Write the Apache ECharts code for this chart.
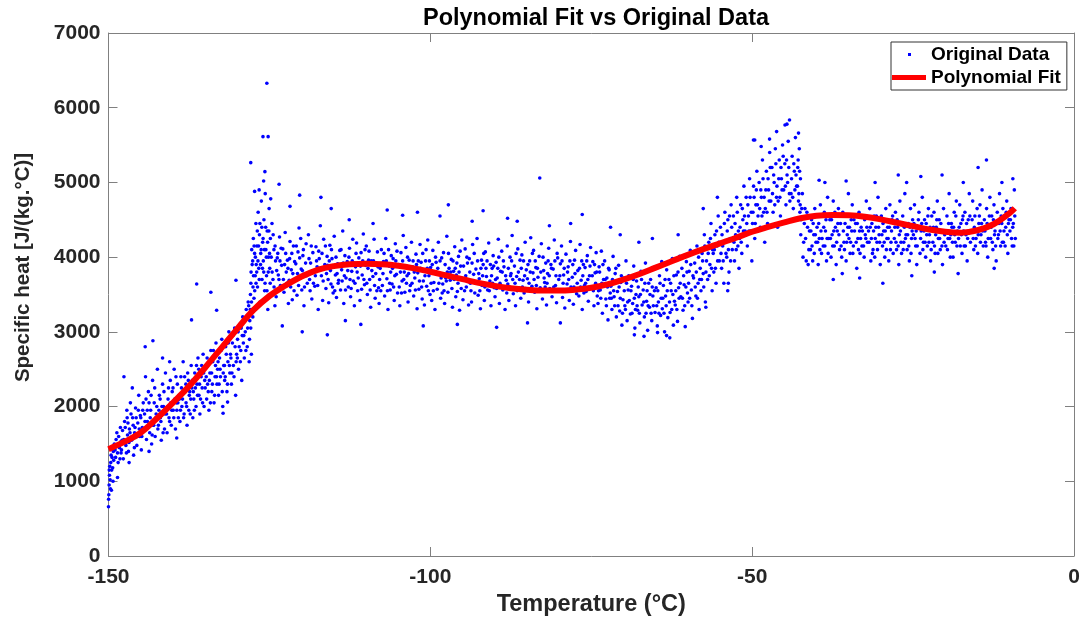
<!DOCTYPE html>
<html>
<head>
<meta charset="utf-8">
<script src="https://cdn.jsdelivr.net/npm/echarts@6/dist/echarts.min.js"></script>
<style>
  html, body { margin: 0; padding: 0; background: #fff; }
  #main { width: 1082px; height: 620px; }
</style>
</head>
<body>
<div id="main"></div>
<script>
// axis ticks
const xTicks = [-150, -100, -50, 0];
const yTicks = [0, 1000, 2000, 3000, 4000, 5000, 6000, 7000];

// polynomial fit
const fitX = [-150, -147.5, -145, -142.5, -140, -137.5, -135, -132.5, -130, -127.5, -125, -122.5, -120, -117.5, -115, -112.5, -110, -107.5, -105, -102.5, -100, -97.5, -95, -92.5, -90, -87.5, -85, -82.5, -80, -77.5, -75, -72.5, -70, -67.5, -65, -62.5, -60, -57.5, -55, -52.5, -50, -47.5, -45, -42.5, -40, -37.5, -35, -32.5, -30, -27.5, -25, -22.5, -20, -17.5, -15, -12.5, -10, -9.2];
const fitY = [1430, 1530, 1650, 1840, 2050, 2270, 2520, 2780, 3040, 3290, 3480, 3620, 3740, 3830, 3880, 3905, 3910, 3905, 3885, 3850, 3805, 3755, 3705, 3655, 3615, 3585, 3565, 3553, 3552, 3565, 3590, 3635, 3700, 3775, 3860, 3945, 4030, 4110, 4185, 4260, 4340, 4405, 4465, 4520, 4555, 4565, 4560, 4540, 4505, 4460, 4415, 4370, 4340, 4328, 4360, 4440, 4590, 4654];

// original data (sampled from the blue cloud)
const ptsRise = [
  [-150.0,660],[-149.95,820],[-149.9,950],[-149.85,1080],[-149.8,1200],[-149.7,900],[-149.6,1350],[-149.5,1150],[-149.4,1450],[-149.3,1000],[-149.2,1280],
  [-149.98,760],[-149.88,1150],[-149.75,1020],[-149.65,1250],[-149.55,880],[-149.45,1320],[-149.35,1180],[-149.25,1400],
  [-149.1,1500],[-148.9,1320],[-148.7,1650],[-148.5,1250],[-148.3,1450],[-148.15,1720],[-148.05,1380],
  [-148.98,1420],[-148.82,1560],[-148.6,1380],[-148.42,1600],[-148.22,1300],[-148.1,1530],
  [-147.9,1550],[-147.7,1300],[-147.5,1800],[-147.3,1480],[-147.15,1950],[-147.05,1620],
  [-147.98,1420],[-147.82,1680],[-147.62,1560],[-147.4,1720],[-147.22,1380],[-147.1,1850],
  [-146.9,1400],[-146.75,1700],[-146.6,2050],[-146.4,1550],[-146.25,1850],[-146.1,1350],
  [-146.98,1780],[-146.82,1520],[-146.66,1650],[-146.5,1900],[-146.33,1600],[-146.17,1750],
  [-145.95,1650],[-145.8,1980],[-145.6,1480],[-145.45,1780],[-145.3,2150],[-145.15,1600],[-145.05,1880],
  [-145.98,1450],[-145.88,1720],[-145.7,1850],[-145.52,1600],[-145.36,1950],[-145.22,1700],
  [-144.9,1420],[-144.75,1720],[-144.6,2050],[-144.4,1900],[-144.25,2400],[-144.1,1560],
  [-144.98,1850],[-144.82,1600],[-144.68,1950],[-144.5,1680],[-144.33,1800],[-144.17,2100],
  [-143.95,1800],[-143.8,2200],[-143.6,1650],[-143.45,1950],[-143.3,1500],[-143.15,2350],[-143.05,1750],
  [-143.98,1950],[-143.86,1720],[-143.7,2050],[-143.52,1850],[-143.38,2150],[-143.22,1620],
  [-142.9,2050],[-142.75,1600],[-142.6,1900],[-142.4,2500],[-142.25,1750],[-142.1,2150],
  [-142.98,1750],[-142.82,2250],[-142.66,1850],[-142.5,2000],[-142.33,1700],[-142.17,1950],
  [-141.95,1850],[-141.8,1550],[-141.6,2300],[-141.45,2000],[-141.3,1700],[-141.15,2450],[-141.05,1950],
  [-141.98,2100],[-141.86,1800],[-141.7,2000],[-141.52,1650],[-141.38,2200],[-141.22,1900],
  [-140.9,1650],[-140.75,2100],[-140.6,1850],[-140.4,2350],[-140.25,1750],[-140.1,2200],
  [-140.98,1900],[-140.82,2000],[-140.68,2250],[-140.5,1800],[-140.33,2050],[-140.17,1950],
  [-139.95,1950],[-139.8,2500],[-139.6,1700],[-139.45,2050],[-139.3,2300],[-139.15,1850],[-139.05,2150],
  [-139.98,2250],[-139.86,1850],[-139.7,2100],[-139.52,2400],[-139.38,1950],[-139.22,2050],
  [-138.9,1800],[-138.75,2400],[-138.6,2000],[-138.4,2600],[-138.25,1900],[-138.1,2200],
  [-138.98,2100],[-138.82,1950],[-138.66,2250],[-138.5,2100],[-138.33,1850],[-138.17,2400],
  [-137.95,2050],[-137.8,1750],[-137.6,2350],[-137.45,2150],[-137.3,1900],[-137.15,2550],[-137.05,2250],
  [-137.98,2300],[-137.86,2000],[-137.7,2450],[-137.52,1950],[-137.38,2200],[-137.22,2100],
  [-136.9,1850],[-136.75,2100],[-136.6,2450],[-136.4,2000],[-136.25,2300],[-136.1,2650],
  [-136.98,2350],[-136.82,2200],[-136.66,1950],[-136.5,2250],[-136.33,2550],[-136.17,2150],
  [-135.95,2150],[-135.8,1900],[-135.6,2400],[-135.45,2250],[-135.3,2700],[-135.15,2000],[-135.05,2350],
  [-135.98,2500],[-135.86,2300],[-135.7,2100],[-135.52,2550],[-135.38,2050],[-135.22,2450],
  [-134.9,2550],[-134.75,2100],[-134.6,2300],[-134.4,1950],[-134.25,2450],[-134.1,2750],
  [-134.98,2250],[-134.82,2400],[-134.68,2650],[-134.5,2200],[-134.33,2350],[-134.17,2050],
  [-133.95,2200],[-133.8,2600],[-133.6,2050],[-133.45,2400],[-133.3,2850],[-133.15,2300],[-133.05,2500],
  [-133.98,2450],[-133.86,2300],[-133.7,2750],[-133.52,2150],[-133.38,2550],[-133.22,2400],
  [-132.9,2150],[-132.75,2650],[-132.6,2400],[-132.4,2900],[-132.25,2000],[-132.1,2550],
  [-132.98,2600],[-132.82,2300],[-132.66,2500],[-132.5,2750],[-132.33,2200],[-132.17,2450],
  [-131.95,2350],[-131.8,2800],[-131.6,2200],[-131.45,2600],[-131.3,3000],[-131.15,2450],[-131.05,2700],
  [-131.98,2550],[-131.86,2400],[-131.7,2700],[-131.52,2300],[-131.38,2850],[-131.22,2550],
  [-130.9,2300],[-130.75,2850],[-130.6,2550],[-130.4,3050],[-130.25,2150],[-130.1,2700],
  [-130.98,2650],[-130.82,2450],[-130.66,2950],[-130.5,2400],[-130.33,2800],[-130.17,2600],
  [-129.95,2900],[-129.8,2500],[-129.6,3100],[-129.45,2750],[-129.3,2350],[-129.15,3200],[-129.05,2850],
  [-129.98,2650],[-129.86,3000],[-129.7,2800],[-129.52,2600],[-129.38,3050],[-129.22,2950],
  [-128.9,2650],[-128.75,3000],[-128.6,3300],[-128.45,2800],[-128.3,3400],[-128.15,2600],[-128.05,3150],
  [-128.98,2950],[-128.82,3150],[-128.66,2750],[-128.5,3200],[-128.38,3050],[-128.22,3350],[-128.1,2900]
];
const ptsJump = [
  [-127.95,3500],[-127.9,3050],[-127.85,3800],[-127.8,2700],[-127.75,4100],[-127.7,3300],[-127.6,3950],[-127.55,3600],[-127.5,4250],[-127.4,3450],[-127.3,4050],[-127.2,3750],[-127.1,4450],[-127.05,3900],
  [-127.98,3300],[-127.88,3650],[-127.78,3400],[-127.68,3900],[-127.58,3200],[-127.48,3750],[-127.38,4150],[-127.28,3550],[-127.18,4000],[-127.08,3650],
  [-126.95,4150],[-126.85,3600],[-126.75,4600],[-126.65,3850],[-126.55,4300],[-126.45,3400],[-126.35,4050],[-126.25,4750],[-126.15,3700],[-126.05,4200],
  [-126.98,3800],[-126.88,4350],[-126.78,3950],[-126.68,4150],[-126.58,3700],[-126.48,4450],[-126.38,3900],[-126.28,4100],[-126.18,4400],[-126.08,3850],
  [-125.95,3950],[-125.85,4500],[-125.75,3550],[-125.65,4850],[-125.55,4100],[-125.45,3750],[-125.35,4350],[-125.25,3300],[-125.15,4000],[-125.05,4650],
  [-125.98,4250],[-125.88,3800],[-125.78,4100],[-125.68,3650],[-125.58,4400],[-125.48,4000],[-125.38,3550],[-125.28,4200],[-125.18,3800],[-125.08,4350],
  [-124.95,3850],[-124.85,4250],[-124.75,3500],[-124.6,4450],[-124.45,3700],[-124.3,4100],[-124.15,3350],[-124.05,3950],
  [-124.98,4050],[-124.88,3650],[-124.72,4000],[-124.58,3800],[-124.42,4300],[-124.28,3600],[-124.12,4150]
];
const ptsPlateau = [
  [-123.95,3470],[-123.78,3990],[-123.62,3760],[-123.43,4270],[-123.29,3620],[-123.1,3890],
  [-123.87,3820],[-123.7,4050],[-123.52,3700],[-123.36,3950],[-123.18,4120],
  [-122.92,4110],[-122.74,3530],[-122.55,4330],[-122.38,3800],[-122.2,3960],[-122.05,3380],
  [-122.83,3700],[-122.64,3900],[-122.47,4050],[-122.29,3650],[-122.12,3850],
  [-121.93,3690],[-121.8,4210],[-121.6,3830],[-121.45,3430],[-121.27,4150],[-121.08,3940],
  [-121.86,3980],[-121.7,3600],[-121.52,4050],[-121.36,3780],[-121.17,3550],
  [-120.9,3910],[-120.72,3490],[-120.56,4070],[-120.4,4390],[-120.23,3720],[-120.06,3840],
  [-120.82,4150],[-120.64,3780],[-120.47,3620],[-120.3,3990],[-120.14,4250],
  [-119.97,3560],[-119.8,4020],[-119.63,3350],[-119.47,3780],[-119.3,4180],[-119.12,3650],
  [-119.88,3820],[-119.72,4100],[-119.55,3600],[-119.38,3920],[-119.2,3750],
  [-118.94,4300],[-118.76,3700],[-118.6,3920],[-118.41,3440],[-118.25,4060],[-118.08,3810],
  [-118.85,3980],[-118.68,3550],[-118.5,4150],[-118.33,3800],[-118.16,3650],
  [-117.95,3610],[-117.77,4140],[-117.59,3870],[-117.42,3300],[-117.26,3980],[-117.09,4420],
  [-117.86,3750],[-117.68,3950],[-117.5,3620],[-117.34,4080],[-117.17,3850],
  [-116.92,3750],[-116.73,3420],[-116.57,4240],[-116.39,3900],[-116.22,3580],[-116.04,4010],
  [-116.83,4050],[-116.65,3680],[-116.48,3850],[-116.3,4150],[-116.13,3780],
  [-115.96,3890],[-115.79,3390],[-115.61,4160],[-115.44,3640],[-115.28,3980],[-115.1,3520],
  [-115.88,3700],[-115.7,3950],[-115.52,3820],[-115.36,4100],[-115.19,3600],
  [-114.93,4280],[-114.75,3760],[-114.58,3460],[-114.4,3910],[-114.24,3690],[-114.07,4090],
  [-114.84,3550],[-114.66,4000],[-114.49,3780],[-114.32,3650],[-114.15,3900],
  [-113.95,3560],[-113.78,3830],[-113.61,4350],[-113.45,3380],[-113.27,4020],[-113.1,3720],
  [-113.87,4100],[-113.7,3680],[-113.53,3920],[-113.36,3750],[-113.18,3560],
  [-112.91,3940],[-112.74,3600],[-112.56,4120],[-112.39,3470],[-112.21,3810],[-112.05,4240],
  [-112.83,3820],[-112.65,4000],[-112.48,3700],[-112.3,3580],[-112.13,3950],
  [-111.96,3680],[-111.8,3350],[-111.62,3870],[-111.46,4190],[-111.29,3550],[-111.11,3990],
  [-111.88,3920],[-111.71,3650],[-111.54,4050],[-111.37,3800],[-111.2,3720],
  [-110.93,3420],[-110.76,4060],[-110.59,3760],[-110.41,4310],[-110.23,3630],[-110.06,3890],
  [-110.85,3880],[-110.68,3570],[-110.5,3950],[-110.32,3700],[-110.15,4100],
  [-109.95,4150],[-109.78,3500],[-109.6,3960],[-109.43,3700],[-109.27,3330],[-109.09,3820],
  [-109.87,3650],[-109.69,3850],[-109.52,4080],[-109.35,3560],[-109.18,3950],
  [-108.92,3740],[-108.74,4240],[-108.57,3450],[-108.4,3920],[-108.22,4070],[-108.05,3590],
  [-108.83,3950],[-108.66,3620],[-108.48,3780],[-108.31,3550],[-108.14,3870],
  [-107.96,3380],[-107.79,3850],[-107.61,4100],[-107.45,3620],[-107.28,3940],[-107.1,3480],
  [-107.88,3700],[-107.7,3550],[-107.53,3900],[-107.36,3780],[-107.19,4050],
  [-106.93,4250],[-106.75,3710],[-106.58,3300],[-106.4,3880],[-106.24,3560],[-106.07,4020],
  [-106.84,3950],[-106.67,3550],[-106.49,4100],[-106.32,3650],[-106.16,3800],
  [-105.95,3640],[-105.78,3980],[-105.61,3420],[-105.44,4180],[-105.27,3770],[-105.09,3520],
  [-105.87,3850],[-105.7,3600],[-105.52,3750],[-105.36,3950],[-105.18,4080],
  [-104.91,3900],[-104.74,3350],[-104.56,4060],[-104.39,3680],[-104.21,4290],[-104.05,3800],
  [-104.83,3600],[-104.65,3800],[-104.48,3520],[-104.3,3950],[-104.13,3700],
  [-103.96,3530],[-103.8,4130],[-103.62,3750],[-103.46,3400],[-103.29,3960],[-103.11,3620],
  [-103.88,3880],[-103.71,3650],[-103.54,4000],[-103.37,3780],[-103.2,3550],
  [-102.93,4200],[-102.76,3870],[-102.59,3480],[-102.41,3720],[-102.23,4040],[-102.06,3310],
  [-102.84,3650],[-102.68,3950],[-102.5,3800],[-102.32,3560],[-102.15,3900],
  [-101.95,3790],[-101.78,3570],[-101.6,4170],[-101.43,3930],[-101.27,3440],[-101.09,3680],
  [-101.87,3950],[-101.69,3680],[-101.52,3850],[-101.35,3600],[-101.18,4050],
  [-100.92,3360],[-100.74,3950],[-100.57,3610],[-100.4,4230],[-100.22,3750],[-100.05,3500],
  [-100.83,3750],[-100.66,4100],[-100.48,3850],[-100.31,3550],[-100.14,3950],
  [-99.96,3860],[-99.79,3420],[-99.61,4090],[-99.45,3660],[-99.28,3300],[-99.1,3930],
  [-99.88,3650],[-99.7,3900],[-99.53,3550],[-99.36,3800],[-99.19,4000],
  [-98.93,3570],[-98.75,4200],[-98.58,3780],[-98.4,3450],[-98.24,3990],[-98.07,3640],
  [-98.84,3850],[-98.67,3650],[-98.49,3950],[-98.32,3720],[-98.16,3520],
  [-97.95,4060],[-97.78,3380],[-97.61,3720],[-97.44,4280],[-97.27,3530],[-97.09,3850],
  [-97.87,3550],[-97.7,3900],[-97.52,3680],[-97.36,3800],[-97.18,4050],
  [-96.91,3690],[-96.74,3970],[-96.56,3330],[-96.39,3810],[-96.21,4140],[-96.05,3470],
  [-96.83,3800],[-96.65,3580],[-96.48,3950],[-96.3,3700],[-96.13,3850],
  [-95.96,3760],[-95.8,3540],[-95.62,4010],[-95.46,3290],[-95.29,3880],[-95.11,4230],
  [-95.88,3920],[-95.71,3650],[-95.54,3800],[-95.37,4080],[-95.2,3580],
  [-94.93,3430],[-94.76,3700],[-94.59,4110],[-94.41,3600],[-94.23,3920],[-94.06,3360],
  [-94.84,3880],[-94.68,3550],[-94.5,3750],[-94.32,4000],[-94.15,3680],
  [-93.95,3980],[-93.78,3650],[-93.6,3400],[-93.43,4170],[-93.27,3770],[-93.09,3520],
  [-93.87,3800],[-93.69,3550],[-93.52,3920],[-93.35,3680],[-93.18,4050],
  [-92.92,3840],[-92.74,4250],[-92.57,3490],[-92.4,3710],[-92.22,3310],[-92.05,3960],
  [-92.83,3650],[-92.66,3950],[-92.48,3780],[-92.31,3550],[-92.14,3850],
  [-91.96,3620],[-91.79,3900],[-91.61,3420],[-91.45,4070],[-91.28,3740],[-91.1,3560],
  [-91.88,3750],[-91.7,4050],[-91.53,3600],[-91.36,3850],[-91.19,3950],
  [-90.93,4190],[-90.75,3680],[-90.58,3350],[-90.4,3850],[-90.24,4020],[-90.07,3590],
  [-90.84,3550],[-90.67,3900],[-90.49,3750],[-90.32,3650],[-90.16,3880],
  [-89.95,3470],[-89.78,3930],[-89.61,3720],[-89.44,4240],[-89.27,3380],[-89.09,3810],
  [-89.87,3700],[-89.7,3580],[-89.52,3850],[-89.36,4000],[-89.18,3650],
  [-88.91,4080],[-88.74,3560],[-88.56,3870],[-88.39,3300],[-88.21,3690],[-88.05,4150],
  [-88.83,3800],[-88.65,3950],[-88.48,3600],[-88.3,3750],[-88.13,3520],
  [-87.96,3640],[-87.8,3420],[-87.62,4000],[-87.46,3780],[-87.29,4290],[-87.11,3510],
  [-87.88,3850],[-87.71,3600],[-87.54,3750],[-87.37,3950],[-87.2,3700],
  [-86.93,3880],[-86.76,3350],[-86.59,3740],[-86.41,4110],[-86.23,3590],[-86.06,3960],
  [-86.84,3650],[-86.68,4050],[-86.5,3550],[-86.32,3800],[-86.15,3700],
  [-85.95,3450],[-85.78,4030],[-85.6,3690],[-85.43,3520],[-85.27,4200],[-85.09,3830],
  [-85.87,3850],[-85.69,3600],[-85.52,3950],[-85.35,3750],[-85.18,3580],
  [-84.92,3710],[-84.74,3400],[-84.57,3950],[-84.4,4260],[-84.22,3610],[-84.05,3790],
  [-84.83,3900],[-84.66,3650],[-84.48,3800],[-84.31,3550],[-84.14,4050],
  [-83.96,4090],[-83.79,3530],[-83.61,3860],[-83.45,3310],[-83.28,3730],[-83.1,4010],
  [-83.88,3700],[-83.7,3950],[-83.53,3620],[-83.36,3850],[-83.19,3550],
  [-82.93,3590],[-82.75,4180],[-82.58,3440],[-82.4,3820],[-82.24,3660],[-82.07,3920],
  [-82.84,3800],[-82.67,3550],[-82.49,4000],[-82.32,3720],[-82.16,3600],
  [-81.95,3360],[-81.78,3780],[-81.61,4120],[-81.44,3580],[-81.27,3900],[-81.09,3470],
  [-81.87,3650],[-81.7,3950],[-81.52,3750],[-81.36,3550],[-81.18,3850],
  [-80.91,3840],[-80.74,4230],[-80.56,3620],[-80.39,3390],[-80.21,3990],[-80.05,3700],
  [-80.83,3600],[-80.65,3950],[-80.48,3750],[-80.3,4050],[-80.13,3550],
  [-79.96,3550],[-79.8,3910],[-79.62,4150],[-79.46,3460],[-79.29,3760],[-79.11,3320],
  [-79.88,3750],[-79.71,3550],[-79.54,3950],[-79.37,3650],[-79.2,3850],
  [-78.93,4040],[-78.76,3640],[-78.59,3870],[-78.41,3420],[-78.23,4210],[-78.06,3580],
  [-78.84,3550],[-78.68,3800],[-78.5,3700],[-78.32,3950],[-78.15,3600],
  [-77.95,3730],[-77.78,3370],[-77.6,3960],[-77.43,4090],[-77.27,3510],[-77.09,3820],
  [-77.87,3900],[-77.69,3600],[-77.52,3780],[-77.35,3550],[-77.18,3650],
  [-76.92,3480],[-76.74,4170],[-76.57,3690],[-76.4,3300],[-76.22,3900],[-76.05,3620],
  [-76.83,3850],[-76.66,3600],[-76.48,3950],[-76.31,3750],[-76.14,3520],
  [-75.96,3860],[-75.79,3540],[-75.61,4020],[-75.45,3410],[-75.28,3750],[-75.1,4130],
  [-75.88,3650],[-75.7,3950],[-75.53,3700],[-75.36,3580],[-75.19,3880],
  [-74.93,3600],[-74.75,3940],[-74.58,3350],[-74.4,3790],[-74.24,4060],[-74.07,3480],
  [-74.84,3750],[-74.67,3550],[-74.49,3900],[-74.32,3650],[-74.16,3800]
];
const ptsDip = [
  [-73.95,3380],[-73.78,3870],[-73.6,3560],[-73.43,4080],[-73.27,3250],[-73.09,3700],
  [-73.87,3550],[-73.7,3800],[-73.52,3450],[-73.35,3650],[-73.18,3900],
  [-72.92,3950],[-72.74,3440],[-72.57,3720],[-72.4,3160],[-72.22,3830],[-72.05,3520],
  [-72.83,3700],[-72.65,3350],[-72.48,3600],[-72.31,3850],[-72.14,3450],
  [-71.96,3610],[-71.79,3300],[-71.61,4010],[-71.45,3470],[-71.28,3780],[-71.1,3200],
  [-71.87,3450],[-71.7,3700],[-71.52,3550],[-71.36,3350],[-71.18,3850],
  [-70.93,3540],[-70.75,3890],[-70.58,3280],[-70.4,3660],[-70.24,3090],[-70.07,3430],
  [-70.84,3350],[-70.67,3600],[-70.49,3450],[-70.32,3750],[-70.15,3250],
  [-69.95,3720],[-69.78,3350],[-69.6,3950],[-69.43,3150],[-69.27,3560],[-69.09,3420],
  [-69.87,3550],[-69.69,3300],[-69.52,3650],[-69.35,3400],[-69.18,3750],
  [-68.92,3240],[-68.74,3610],[-68.57,3380],[-68.4,3880],[-68.22,3050],[-68.05,3500],
  [-68.83,3550],[-68.66,3250],[-68.48,3700],[-68.31,3450],[-68.14,3300],
  [-67.96,3680],[-67.79,3290],[-67.61,3470],[-67.45,3120],[-67.28,3810],[-67.1,3360],
  [-67.88,3350],[-67.7,3600],[-67.53,3250],[-67.36,3500],[-67.19,3700],
  [-66.93,3560],[-66.75,3200],[-66.58,3920],[-66.4,3410],[-66.24,3020],[-66.07,3650],
  [-66.84,3400],[-66.67,3650],[-66.49,3250],[-66.32,3550],[-66.16,3350],
  [-65.95,3330],[-65.78,3700],[-65.6,3150],[-65.43,3480],[-65.27,3860],[-65.09,3260],
  [-65.87,3500],[-65.7,3250],[-65.52,3600],[-65.35,3350],[-65.18,3550],
  [-64.92,3590],[-64.74,3080],[-64.57,3400],[-64.4,3750],[-64.22,3220],[-64.05,3940],
  [-64.83,3350],[-64.66,3550],[-64.48,3250],[-64.31,3650],[-64.14,3450],
  [-63.96,3310],[-63.79,3620],[-63.61,3000],[-63.45,3480],[-63.28,3830],[-63.1,3190],
  [-63.88,3450],[-63.7,3250],[-63.53,3700],[-63.36,3350],[-63.19,3550],
  [-62.93,3700],[-62.75,3260],[-62.58,3550],[-62.4,3980],[-62.24,3090],[-62.07,3410],
  [-62.84,3400],[-62.67,3650],[-62.49,3300],[-62.32,3500],[-62.16,3750],
  [-61.95,3360],[-61.78,3760],[-61.6,3140],[-61.43,3590],[-61.27,4010],[-61.09,3470],
  [-61.87,3550],[-61.7,3300],[-61.52,3800],[-61.35,3450],[-61.18,3650],
  [-60.92,3850],[-60.74,3290],[-60.57,3630],[-60.4,3070],[-60.22,3940],[-60.05,3520],
  [-60.83,3450],[-60.65,3750],[-60.48,3350],[-60.3,3600],[-60.13,3800],
  [-59.96,3400],[-59.79,3810],[-59.61,4090],[-59.45,3560],[-59.28,3180],[-59.1,3720],
  [-59.88,3650],[-59.71,3450],[-59.54,3900],[-59.37,3350],[-59.2,3750],
  [-58.93,3920],[-58.75,3480],[-58.58,4150],[-58.4,3650],[-58.24,3300],[-58.07,3850],
  [-58.84,3600],[-58.68,3800],[-58.5,3450],[-58.32,4000],[-58.15,3700]
];
const ptsPeak = [
  [-57.95,3550],[-57.78,4050],[-57.6,3780],[-57.43,4300],[-57.27,3400],[-57.09,3950],
  [-57.87,3700],[-57.7,3950],[-57.52,3600],[-57.35,4150],[-57.18,3800],
  [-56.92,3700],[-56.74,4200],[-56.57,3900],[-56.4,4450],[-56.22,3550],[-56.05,4050],
  [-56.83,4050],[-56.66,3750],[-56.48,4250],[-56.31,3850],[-56.14,4100],
  [-55.96,3800],[-55.79,4300],[-55.61,3650],[-55.45,4150],[-55.28,4550],[-55.1,3950],
  [-55.88,4100],[-55.71,3850],[-55.54,4350],[-55.37,3950],[-55.2,4200],
  [-54.93,4400],[-54.75,3850],[-54.58,4150],[-54.4,3650],[-54.24,4600],[-54.07,4050],
  [-54.84,4050],[-54.68,4300],[-54.5,3950],[-54.32,4450],[-54.15,4200],
  [-53.95,4000],[-53.78,4500],[-53.6,3800],[-53.43,4250],[-53.27,4700],[-53.09,4100],
  [-53.87,4350],[-53.69,4100],[-53.52,4550],[-53.35,3950],[-53.18,4400],
  [-52.92,4550],[-52.74,3950],[-52.57,4300],[-52.4,4800],[-52.22,4150],[-52.05,3850],
  [-52.83,4200],[-52.66,4450],[-52.48,4100],[-52.31,4600],[-52.14,4350],
  [-51.96,4250],[-51.79,4700],[-51.61,4050],[-51.45,4500],[-51.28,4950],[-51.1,4350],
  [-51.88,4400],[-51.7,4200],[-51.53,4650],[-51.36,4350],[-51.19,4550],
  [-50.93,4800],[-50.75,4150],[-50.58,4550],[-50.4,5050],[-50.22,4350],[-50.05,3950],
  [-50.84,4450],[-50.67,4700],[-50.49,4350],[-50.32,4800],[-50.15,4600],
  [-49.95,4450],[-49.78,4950],[-49.6,4250],[-49.43,4700],[-49.27,5150],[-49.09,4550],
  [-49.87,4600],[-49.7,4800],[-49.52,4450],[-49.35,4900],[-49.18,4700],
  [-48.92,5000],[-48.74,4400],[-48.57,4800],[-48.4,5300],[-48.22,4600],[-48.05,4200],
  [-48.83,4650],[-48.66,4900],[-48.48,4550],[-48.31,5050],[-48.14,4800],
  [-47.96,4650],[-47.79,5150],[-47.61,4450],[-47.45,4900],[-47.28,5400],[-47.1,4750],
  [-47.88,4900],[-47.7,4600],[-47.53,5050],[-47.36,4750],[-47.19,5200],
  [-46.93,5200],[-46.75,4600],[-46.58,5000],[-46.4,5450],[-46.22,4800],[-46.05,4400],
  [-46.84,4850],[-46.66,5100],[-46.49,4700],[-46.32,5250],[-46.15,4950],
  [-45.96,4750],[-45.79,5300],[-45.61,4550],[-45.45,5050],[-45.28,5500],[-45.1,4900],
  [-45.87,5050],[-45.7,4800],[-45.52,5200],[-45.36,4900],[-45.18,5350],
  [-44.93,5250],[-44.75,4700],[-44.58,5100],[-44.4,5550],[-44.22,4850],[-44.05,4500],
  [-44.84,4950],[-44.66,5300],[-44.49,5000],[-44.31,5200],[-44.14,4750],
  [-43.96,4850],[-43.79,5350],[-43.61,4650],[-43.45,5150],[-43.28,5600],[-43.1,4950],
  [-43.88,5050],[-43.7,4800],[-43.53,5250],[-43.36,4900],[-43.19,5100],
  [-42.92,5200],[-42.8,4750],[-42.68,5450],[-42.58,4600],[-42.5,5050],
  [-42.96,4950],[-42.86,5300],[-42.74,4850],[-42.63,5150],[-42.54,4700],
  [-42.4,4500],[-42.2,4850],[-42.0,4200],[-41.8,4650],[-41.6,3950],[-41.4,4400],[-41.2,4100],
  [-42.45,4300],[-42.3,4650],[-42.1,4000],[-41.9,4450],[-41.7,4250],[-41.5,4600],[-41.3,3900],[-41.1,4350]
];
const ptsTail = [
  [-40.95,4100],[-40.78,4500],[-40.6,3950],[-40.43,4300],[-40.27,4650],[-40.09,4200],
  [-40.87,4350],[-40.7,4150],[-40.52,4450],[-40.35,4050],[-40.18,4300],
  [-39.92,4400],[-39.74,3900],[-39.57,4250],[-39.4,4700],[-39.22,4050],[-39.05,4550],
  [-39.83,4200],[-39.66,4450],[-39.48,4100],[-39.31,4350],[-39.14,4250],
  [-38.96,4150],[-38.79,4600],[-38.61,4350],[-38.45,3950],[-38.28,4800],[-38.1,4250],
  [-38.88,4400],[-38.7,4150],[-38.53,4500],[-38.36,4250],[-38.19,4050],
  [-37.93,4500],[-37.75,4000],[-37.58,4300],[-37.4,4750],[-37.24,4150],[-37.07,4400],
  [-37.84,4250],[-37.67,4500],[-37.49,4150],[-37.32,4350],[-37.15,4600],
  [-36.95,3900],[-36.78,4350],[-36.6,4650],[-36.43,4100],[-36.27,4450],[-36.09,4000],
  [-36.87,4200],[-36.69,4450],[-36.52,4300],[-36.35,4550],[-36.18,4150],
  [-35.92,4600],[-35.74,4200],[-35.57,4450],[-35.4,3950],[-35.22,4300],[-35.05,4850],
  [-35.83,4350],[-35.66,4100],[-35.48,4550],[-35.31,4200],[-35.14,4400],
  [-34.96,4250],[-34.79,4050],[-34.61,4500],[-34.45,4700],[-34.28,4150],[-34.1,4350],
  [-34.88,4400],[-34.7,4200],[-34.53,4350],[-34.36,4050],[-34.19,4500],
  [-33.93,4450],[-33.75,3850],[-33.58,4250],[-33.4,4600],[-33.24,4050],[-33.07,4400],
  [-33.84,4200],[-33.67,4450],[-33.49,4100],[-33.32,4350],[-33.15,4250],
  [-32.95,4150],[-32.78,4550],[-32.6,4000],[-32.43,4300],[-32.27,4750],[-32.09,4200],
  [-32.87,4350],[-32.69,4150],[-32.52,4500],[-32.35,4250],[-32.18,4400],
  [-31.92,4350],[-31.74,4650],[-31.57,3950],[-31.4,4450],[-31.22,4100],[-31.05,4550],
  [-31.83,4200],[-31.66,4400],[-31.48,4250],[-31.31,4050],[-31.14,4350],
  [-30.96,4000],[-30.79,4400],[-30.61,4200],[-30.45,4800],[-30.28,4300],[-30.1,3900],
  [-30.88,4250],[-30.7,4550],[-30.53,4100],[-30.36,4400],[-30.19,4200],
  [-29.93,4550],[-29.75,4150],[-29.58,4350],[-29.4,4000],[-29.24,4650],[-29.07,4250],
  [-29.84,4300],[-29.67,4450],[-29.49,4200],[-29.32,4350],[-29.15,4100],
  [-28.95,4400],[-28.78,3950],[-28.6,4700],[-28.43,4200],[-28.27,4500],[-28.09,4050],
  [-28.87,4250],[-28.69,4400],[-28.52,4100],[-28.35,4350],[-28.18,4550],
  [-27.92,4250],[-27.74,4600],[-27.57,4100],[-27.4,4400],[-27.22,3900],[-27.05,4750],
  [-27.83,4400],[-27.66,4200],[-27.48,4500],[-27.31,4150],[-27.14,4300],
  [-26.96,4350],[-26.79,4050],[-26.61,4550],[-26.45,4200],[-26.28,4850],[-26.1,4300],
  [-26.88,4200],[-26.7,4450],[-26.53,4100],[-26.36,4400],[-26.19,4250],
  [-25.93,4100],[-25.75,4450],[-25.58,3950],[-25.4,4650],[-25.24,4250],[-25.07,4500],
  [-25.84,4300],[-25.67,4150],[-25.49,4400],[-25.32,4050],[-25.15,4350],
  [-24.95,4300],[-24.78,4700],[-24.6,4150],[-24.43,3900],[-24.27,4400],[-24.09,4600],
  [-24.87,4450],[-24.69,4250],[-24.52,4350],[-24.35,4150],[-24.18,4500],
  [-23.92,4050],[-23.74,4350],[-23.57,4800],[-23.4,4200],[-23.22,4500],[-23.05,4000],
  [-23.83,4250],[-23.66,4450],[-23.48,4100],[-23.31,4350],[-23.14,4200],
  [-22.96,4450],[-22.79,4150],[-22.61,4650],[-22.45,4300],[-22.28,3950],[-22.1,4550],
  [-22.88,4300],[-22.7,4550],[-22.53,4200],[-22.36,4400],[-22.19,4100],
  [-21.93,4200],[-21.75,4600],[-21.58,4050],[-21.4,4400],[-21.24,4750],[-21.07,4250],
  [-21.84,4400],[-21.67,4150],[-21.49,4300],[-21.32,4500],[-21.15,4050],
  [-20.95,4500],[-20.78,4100],[-20.6,4350],[-20.43,3900],[-20.27,4650],[-20.09,4300],
  [-20.87,4250],[-20.69,4450],[-20.52,4150],[-20.35,4350],[-20.18,4200],
  [-19.92,4150],[-19.74,4550],[-19.57,4250],[-19.4,4850],[-19.22,4000],[-19.05,4450],
  [-19.83,4350],[-19.66,4100],[-19.48,4450],[-19.31,4250],[-19.14,4300],
  [-18.96,4400],[-18.79,4000],[-18.61,4600],[-18.45,4200],[-18.28,4750],[-18.1,4350],
  [-18.88,4200],[-18.7,4400],[-18.53,4300],[-18.36,4550],[-18.19,4150],
  [-17.93,4250],[-17.75,4700],[-17.58,4450],[-17.4,4050],[-17.24,4550],[-17.07,4150],
  [-17.84,4400],[-17.67,4150],[-17.49,4300],[-17.32,4500],[-17.15,4350],
  [-16.95,4600],[-16.78,4300],[-16.6,3950],[-16.43,4500],[-16.27,4850],[-16.09,4200],
  [-16.87,4150],[-16.69,4450],[-16.52,4250],[-16.35,4350],[-16.18,4550],
  [-15.92,4350],[-15.74,4750],[-15.57,4100],[-15.4,4550],[-15.22,4250],[-15.05,4650],
  [-15.83,4500],[-15.66,4250],[-15.48,4400],[-15.31,4150],[-15.14,4350],
  [-14.96,4050],[-14.79,4450],[-14.61,4700],[-14.45,4300],[-14.28,4900],[-14.1,4150],
  [-14.88,4300],[-14.7,4550],[-14.53,4200],[-14.36,4450],[-14.19,4350],
  [-13.93,4500],[-13.75,4200],[-13.58,4650],[-13.4,4000],[-13.24,4400],[-13.07,4800],
  [-13.84,4350],[-13.67,4150],[-13.49,4450],[-13.32,4250],[-13.15,4550],
  [-12.95,4250],[-12.78,4550],[-12.6,4100],[-12.43,4700],[-12.27,4350],[-12.09,3950],
  [-12.87,4400],[-12.69,4200],[-12.52,4500],[-12.35,4300],[-12.18,4150],
  [-11.92,4600],[-11.74,4300],[-11.57,4850],[-11.4,4150],[-11.22,4450],[-11.05,4650],
  [-11.83,4250],[-11.66,4450],[-11.48,4350],[-11.31,4550],[-11.14,4200],
  [-10.96,4200],[-10.79,4550],[-10.61,4400],[-10.45,4750],[-10.28,4050],[-10.1,4500],
  [-10.88,4350],[-10.7,4150],[-10.53,4600],[-10.36,4300],[-10.19,4450],
  [-9.95,4350],[-9.78,4650],[-9.6,4150],[-9.43,4450],[-9.27,4900],[-9.12,4250],
  [-9.87,4500],[-9.7,4250],[-9.52,4400],[-9.35,4150],[-9.2,4550]
];
const ptsOutliers = [
  [-147.6,2400],[-146.3,2250],[-144.3,2800],[-143.1,2880],[-141.6,2650],[-140.5,2600],[-137.1,3160],[-136.3,3640],[-134.1,3530],[-133.2,3290],[-130.2,3690],[-132.2,1910],[-131.5,2060],[-139.4,1580],[-143.7,1400],[-148.6,1050],[-146.8,1250],
  [-127.9,5265],[-126.0,5613],[-125.2,5613],[-125.4,6327],[-125.7,5144],[-125.9,5020],[-123.5,4975],[-126.6,4900],[-124.8,4780],[-127.3,4880],
  [-120.3,4830],[-119.9,3000],[-117.0,4800],[-116.0,2960],[-115.4,4650],[-112.6,4500],[-110.8,3100],[-106.7,4630],[-104.3,4560],[-102.0,4600],[-101.1,3080],[-98.5,4550],[-97.2,4700],[-95.8,3100],[-93.5,4480],[-91.8,4620],[-89.7,3060],[-88.0,4520],[-86.5,4480],[-84.9,3120],[-83.0,5060],[-81.5,4420],[-79.8,3120],[-78.2,4450],[-76.4,4570],[-121.8,4680],[-113.2,3150],[-108.9,4450],[-123.0,3080],
  [-72.0,4400],[-70.5,4300],[-68.3,2960],[-66.8,2940],[-64.7,2990],[-63.3,2950],[-65.5,4250],[-61.5,4300],[-62.8,2920],[-67.6,4200],
  [-44.2,5836],[-44.6,5780],[-44.9,5769],[-46.2,5680],[-42.8,5660],[-49.8,5568],[-49.6,5568],[-47.3,5580],[-48.6,5480],[-55.4,4800],[-57.6,4650],[-53.8,3550],[-53.7,3650],[-57.2,3330],
  [-39.6,5030],[-38.7,5000],[-35.4,5020],[-30.9,5000],[-27.3,5100],[-26.0,5000],[-23.8,5080],[-20.5,5100],[-17.2,5000],[-13.6,5300],[-14.9,5200],[-11.2,5000],[-9.5,5050],[-29.7,3650],[-25.2,3750],[-37.4,3700],[-33.3,3720],[-18.0,3780],[-21.7,3800],[-36.0,3780],[-12.4,3850]
];

const FONT = '"Liberation Sans", Arial, Helvetica, sans-serif';
const AXIS_GRAY = '#808080';

let scatterData = ptsRise.concat(ptsJump, ptsPlateau, ptsDip, ptsPeak, ptsTail, ptsOutliers);
let fitData = [];
for (let i = 0; i < fitX.length; i++) {
  fitData.push([fitX[i], fitY[i]]);
}

let chart = echarts.init(document.getElementById('main'), null, { renderer: 'canvas' });

function axisBase (ticks) {
  return {
    type: 'value',
    min: ticks[0],
    max: ticks[ticks.length - 1],
    interval: ticks[1] - ticks[0],
    axisLine: { show: true, onZero: false, lineStyle: { color: AXIS_GRAY, width: 1 } },
    axisTick: { show: true, inside: true, length: 9, lineStyle: { color: AXIS_GRAY, width: 1 } },
    splitLine: { show: false }
  }
}

// plain numbers, no thousands separator
function plain (v) {
  return String(v);
}

let option = {
  backgroundColor: '#ffffff',
  animation: false,
  title: {
    text: 'Polynomial Fit vs Original Data',
    left: 591,
    textAlign: 'center',
    top: 2,
    textStyle: { fontFamily: FONT, fontWeight: 'bold', fontSize: 23.5, color: '#000000' }
  },
  legend: {
    orient: 'vertical',
    left: 891,
    top: 42,
    padding: [3, 6, 3, 1],
    itemGap: 4,
    itemWidth: 34,
    itemHeight: 19,
    backgroundColor: '#ffffff',
    borderColor: '#333333',
    borderWidth: 1,
    borderRadius: 0,
    textStyle: { fontFamily: FONT, fontWeight: 'bold', fontSize: 19, color: '#000000' },
    data: [
      { name: 'Original Data', icon: 'path://M0,0M34,19M16,8h3v3h-3z' },
      { name: 'Polynomial Fit', icon: 'path://M0,0M34,19M0,7h34v5h-34z' }
    ]
  },
  grid: {
    left: 108.5,
    right: 8,
    top: 33,
    bottom: 64,
    containLabel: false,
    outerBoundsMode: 'none'
  },
  xAxis: [
    Object.assign(axisBase(xTicks), {
      position: 'bottom',
      axisLabel: { fontFamily: FONT, fontWeight: 'bold', fontSize: 21, color: '#262626', margin: 11, formatter: plain },
      name: 'Temperature (°C)',
      nameLocation: 'middle',
      nameGap: 31,
      nameTextStyle: { fontFamily: FONT, fontWeight: 'bold', fontSize: 23.5, color: '#262626' }
    }),
    Object.assign(axisBase(xTicks), {
      position: 'top',
      axisLabel: { show: false }
    })
  ],
  yAxis: [
    Object.assign(axisBase(yTicks), {
      position: 'left',
      axisLabel: { fontFamily: FONT, fontWeight: 'bold', fontSize: 21, color: '#262626', margin: 8, formatter: plain },
      name: 'Specific heat [J/(kg.°C)]',
      nameLocation: 'middle',
      nameGap: 75,
      nameTextStyle: { fontFamily: FONT, fontWeight: 'bold', fontSize: 20.5, color: '#262626', padding: [0, 0, 0, 54] }
    }),
    Object.assign(axisBase(yTicks), {
      position: 'right',
      axisLabel: { show: false }
    })
  ],
  series: [
    {
      name: 'Original Data',
      type: 'scatter',
      xAxisIndex: 0,
      yAxisIndex: 0,
      symbol: 'circle',
      symbolSize: 3.6,
      itemStyle: { color: '#0000ff', opacity: 1 },
      emphasis: { disabled: true },
      data: scatterData
    },
    {
      name: 'Polynomial Fit',
      type: 'line',
      xAxisIndex: 0,
      yAxisIndex: 0,
      smooth: 0.4,
      showSymbol: false,
      symbol: 'none',
      lineStyle: { color: '#ff0000', width: 6 },
      itemStyle: { color: '#ff0000' },
      emphasis: { disabled: true },
      data: fitData
    }
  ]
};

chart.setOption(option);
</script>
</body>
</html>
